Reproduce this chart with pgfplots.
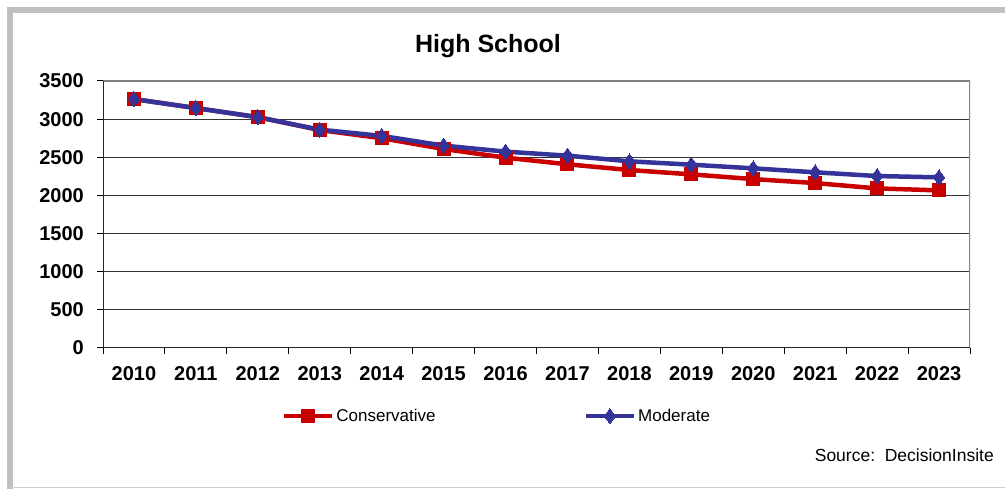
\documentclass[border=0pt]{standalone}
\usepackage{pgfplots}
\pgfplotsset{compat=1.18}
\usepackage{fontspec}
\setmainfont{Liberation Sans}
\definecolor{consred}{RGB}{200,0,0}
\definecolor{modblue}{RGB}{51,51,153}
\definecolor{framegray}{RGB}{192,192,192}
\begin{document}
\begin{tikzpicture}[x=1pt,y=1pt]
\path[use as bounding box] (0pt,0pt) rectangle (1005pt,489pt);
\clip (0pt,0pt) rectangle (1005pt,489pt);
\fill[white] (0pt,0pt) rectangle (1005pt,489pt);
\draw[framegray, line width=6pt] (10pt,-20pt) -- (10pt,479pt) -- (1030pt,479pt);
\draw[framegray!80, line width=1.5pt] (10pt,1.5pt) -- (1005pt,1.5pt);
\begin{axis}[
  at={(103pt,141pt)}, anchor=south west,
  scale only axis, width=867pt, height=267pt,
  xmin=-0.5, xmax=13.5, ymin=0, ymax=3500,
  ytick={0,500,...,3500},
  xtick={0,...,13},
  xticklabels={2010,2011,2012,2013,2014,2015,2016,2017,2018,2019,2020,2021,2022,2023},
  minor xtick={-0.5,0.5,...,13.5},
  major x tick style={draw=none},
  minor tick length=6pt,
  major tick length=6pt,
  tick align=outside,
  tick pos=left,
  tick style={black, line width=1pt},
  ymajorgrids,
  grid style={black!80, line width=1pt},
  axis line style={draw=none},
  /pgf/number format/assume math mode=true,
  /pgf/number format/1000 sep={},
  ticklabel style={font=\fontsize{20}{24}\selectfont\bfseries},
  yticklabel style={inner sep=0pt, anchor=east, xshift=-13pt},
  xticklabel style={inner sep=0pt, anchor=north, yshift=-12pt},
  legend columns=2,
  legend style={draw=none, fill=none, inner sep=0pt, outer sep=0pt,
    at={(0.2064,-0.2547)}, anchor=west,
    font=\fontsize{17}{20}\selectfont,
    nodes={inner xsep=2pt, inner ysep=0pt},
    /tikz/every even column/.append style={column sep=146pt}},
  legend image code/.code={\draw[mark repeat=2,mark phase=2,#1] plot coordinates {(0pt,0pt) (24pt,0pt) (48pt,0pt)};},
]
\addplot[consred, line width=4.5pt, mark=square*, mark size=6.5pt, mark options={line width=0pt}] coordinates {
(0,3263) (1,3145) (2,3026) (3,2857) (4,2750) (5,2609) (6,2495) (7,2408) (8,2333) (9,2276) (10,2214) (11,2162) (12,2092) (13,2066)};
\addlegendentry{Conservative}
\addplot[modblue, line width=4.5pt, mark=diamond*, mark size=7.5pt, mark options={line width=0pt}] coordinates {
(0,3263) (1,3145) (2,3026) (3,2862) (4,2780) (5,2653) (6,2574) (7,2521) (8,2447) (9,2403) (10,2355) (11,2303) (12,2254) (13,2237)};
\addlegendentry{Moderate}
\draw[gray, line width=2pt] (rel axis cs:0,1) -- (rel axis cs:1,1) -- (rel axis cs:1,0);
\draw[black!85, line width=1.5pt] (rel axis cs:0,1) -- (rel axis cs:0,0) -- (rel axis cs:1,0);
\end{axis}
\node[font=\fontsize{25}{30}\selectfont\bfseries] at (488pt,443pt) {High School};
\node[anchor=east, font=\fontsize{17.5}{21}\selectfont, inner sep=0pt] at (994pt,34pt) {Source:\ \ DecisionInsite};
\end{tikzpicture}
\end{document}
